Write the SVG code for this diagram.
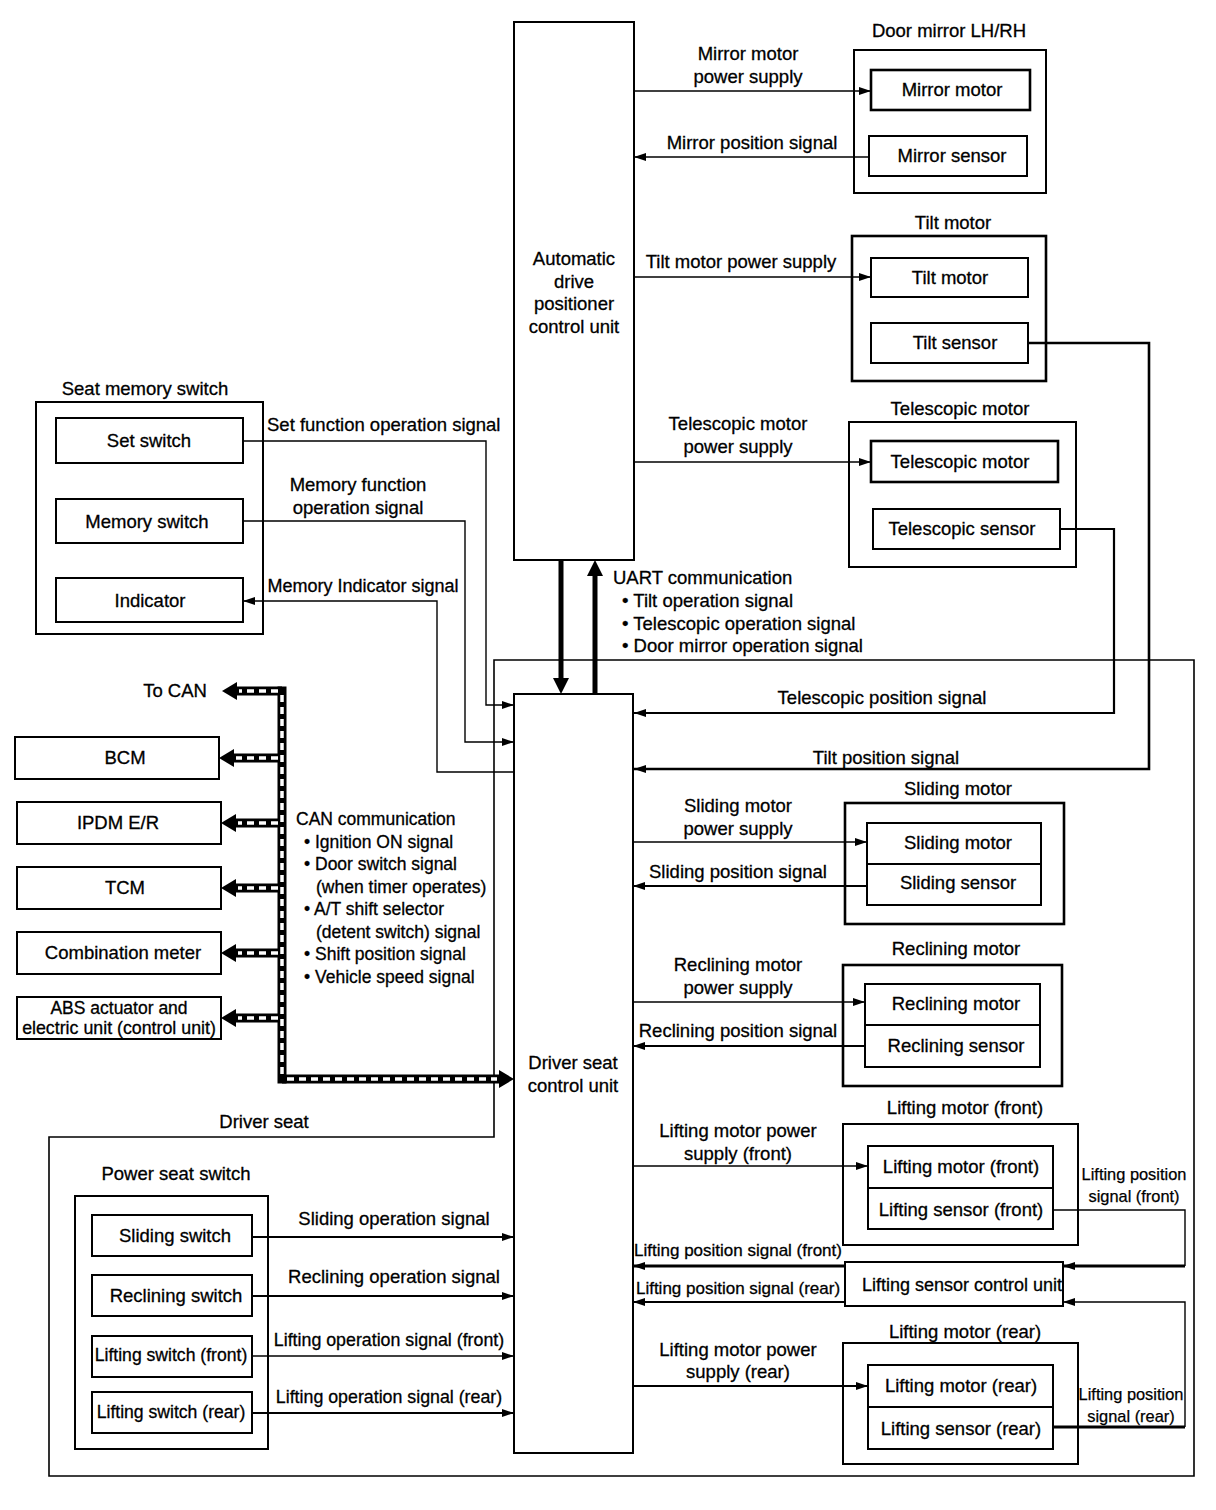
<svg xmlns="http://www.w3.org/2000/svg" width="1216" height="1510" viewBox="0 0 1216 1510">
<defs>
<style>
.b{fill:none;stroke:#000;stroke-width:2}
.bk{fill:none;stroke:#000;stroke-width:2.6}
.t{font-family:"Liberation Sans",Arial,sans-serif;font-size:18.5px;fill:#000;stroke:#000;stroke-width:0.3}
.c{font-size:17.5px}
.s{font-family:"Liberation Sans",Arial,sans-serif;font-size:16.4px;fill:#000;stroke:#000;stroke-width:0.25}
.m{text-anchor:middle}
.l{fill:none;stroke:#000;stroke-width:1.4}
.lt{fill:none;stroke:#000;stroke-width:3}
.cb{fill:none;stroke:#000;stroke-width:9}
.cw{fill:none;stroke:#fff;stroke-width:3.5;stroke-dasharray:7 5}
.u{fill:none;stroke:#000;stroke-width:5}
</style>
<marker id="a" markerWidth="12" markerHeight="8" refX="12" refY="4" orient="auto" markerUnits="userSpaceOnUse"><path d="M0,0 L12,4 L0,8 z"/></marker>
<marker id="ca" markerWidth="16" markerHeight="18" refX="0" refY="9" orient="auto" markerUnits="userSpaceOnUse"><path d="M0,0 L15,9 L0,18 z"/></marker>
<marker id="ua" markerWidth="16" markerHeight="16" refX="0" refY="8" orient="auto" markerUnits="userSpaceOnUse"><path d="M0,0 L16,8 L0,16 z"/></marker>
</defs>
<rect width="1216" height="1510" fill="#fff"/>

<g id="driver-seat-boundary">
<path class="b" d="M494,1137 V660 H1194 V1476 H49 V1137 Z" style="stroke-width:1.6"/>
<text class="t m" x="264" y="1128">Driver seat</text>
</g>

<g id="adp-unit">
<rect class="b" x="514" y="22" width="120" height="538"/>
<text class="t m" x="574" y="265">Automatic</text>
<text class="t m" x="574" y="288">drive</text>
<text class="t m" x="574" y="310">positioner</text>
<text class="t m" x="574" y="333">control unit</text>
</g>

<g id="driver-seat-control-unit">
<rect class="b" x="514" y="694" width="119" height="759"/>
<text class="t m" x="573" y="1069">Driver seat</text>
<text class="t m" x="573" y="1092">control unit</text>
</g>

<g id="door-mirror">
<text class="t m" x="949" y="37">Door mirror LH/RH</text>
<rect class="b" x="854" y="50" width="192" height="143"/>
<rect class="bk" x="871" y="70" width="159" height="40"/>
<text class="t m" x="952" y="96">Mirror motor</text>
<rect class="b" x="869" y="136" width="158" height="40"/>
<text class="t m" x="952" y="162">Mirror sensor</text>
</g>

<g id="tilt-motor">
<text class="t m" x="953" y="229">Tilt motor</text>
<rect class="bk" x="852" y="236" width="194" height="145"/>
<rect class="b" x="871" y="258" width="157" height="39"/>
<text class="t m" x="950" y="284">Tilt motor</text>
<rect class="b" x="871" y="323" width="157" height="40"/>
<text class="t m" x="955" y="349">Tilt sensor</text>
</g>

<g id="telescopic-motor">
<text class="t m" x="960" y="415">Telescopic motor</text>
<rect class="b" x="849" y="422" width="227" height="145"/>
<rect class="bk" x="871" y="441" width="187" height="41"/>
<text class="t m" x="960" y="468">Telescopic motor</text>
<rect class="b" x="873" y="509" width="187" height="40"/>
<text class="t m" x="962" y="535">Telescopic sensor</text>
</g>

<g id="seat-memory-switch">
<text class="t m" x="145" y="395">Seat memory switch</text>
<rect class="b" x="36" y="402" width="227" height="232"/>
<rect class="b" x="56" y="418" width="187" height="45"/>
<text class="t m" x="149" y="447">Set switch</text>
<rect class="b" x="56" y="499" width="187" height="44"/>
<text class="t m" x="147" y="528">Memory switch</text>
<rect class="b" x="56" y="578" width="187" height="44"/>
<text class="t m" x="150" y="607">Indicator</text>
</g>

<g id="can-nodes">
<text class="t m" x="175" y="697">To CAN</text>
<rect class="b" x="15" y="737" width="204" height="42"/>
<text class="t m" x="125" y="764">BCM</text>
<rect class="b" x="17" y="802" width="204" height="42"/>
<text class="t m" x="118" y="829">IPDM E/R</text>
<rect class="b" x="17" y="867" width="204" height="42"/>
<text class="t m" x="125" y="894">TCM</text>
<rect class="b" x="17" y="932" width="204" height="42"/>
<text class="t m" x="123" y="959">Combination meter</text>
<rect class="b" x="17" y="997" width="204" height="42"/>
<text class="t c m" x="119" y="1014">ABS actuator and</text>
<text class="t c m" x="119" y="1034" style="font-size:17.8px">electric unit (control unit)</text>
</g>

<g id="sliding-motor">
<text class="t m" x="958" y="795">Sliding motor</text>
<rect class="bk" x="845" y="803" width="219" height="121"/>
<rect class="b" x="867" y="823" width="174" height="82"/>
<line class="b" x1="867" y1="864" x2="1041" y2="864"/>
<text class="t m" x="958" y="849">Sliding motor</text>
<text class="t m" x="958" y="889">Sliding sensor</text>
</g>

<g id="reclining-motor">
<text class="t m" x="956" y="955">Reclining motor</text>
<rect class="bk" x="843" y="965" width="219" height="121"/>
<rect class="b" x="865" y="984" width="175" height="83"/>
<line class="b" x1="865" y1="1025" x2="1040" y2="1025"/>
<text class="t m" x="956" y="1010">Reclining motor</text>
<text class="t m" x="956" y="1052">Reclining sensor</text>
</g>

<g id="lifting-motor-front">
<text class="t m" x="965" y="1114">Lifting motor (front)</text>
<rect class="b" x="843" y="1124" width="235" height="121"/>
<rect class="b" x="868" y="1146" width="185" height="83"/>
<line class="b" x1="868" y1="1188" x2="1053" y2="1188"/>
<text class="t m" x="961" y="1173">Lifting motor (front)</text>
<text class="t m" x="961" y="1216">Lifting sensor (front)</text>
</g>

<g id="lifting-sensor-control-unit">
<rect class="b" x="845" y="1262" width="218" height="44"/>
<text class="t m" x="962" y="1291" style="font-size:18px">Lifting sensor control unit</text>
</g>

<g id="lifting-motor-rear">
<text class="t m" x="965" y="1338">Lifting motor (rear)</text>
<rect class="b" x="843" y="1343" width="235" height="121"/>
<rect class="b" x="868" y="1365" width="185" height="84"/>
<line class="b" x1="868" y1="1407" x2="1053" y2="1407"/>
<text class="t m" x="961" y="1392">Lifting motor (rear)</text>
<text class="t m" x="961" y="1435">Lifting sensor (rear)</text>
</g>

<g id="power-seat-switch">
<text class="t m" x="176" y="1180">Power seat switch</text>
<rect class="b" x="75" y="1196" width="193" height="253"/>
<rect class="b" x="92" y="1215" width="160" height="41"/>
<text class="t m" x="175" y="1242">Sliding switch</text>
<rect class="b" x="92" y="1275" width="160" height="41"/>
<text class="t m" x="176" y="1302">Reclining switch</text>
<rect class="b" x="92" y="1336" width="160" height="41"/>
<text class="t m" x="171" y="1361" style="font-size:17.6px">Lifting switch (front)</text>
<rect class="b" x="92" y="1392" width="160" height="41"/>
<text class="t m" x="171" y="1418" style="font-size:17.6px">Lifting switch (rear)</text>
</g>

<g id="connectors">
<!-- ADP side -->
<path class="l" d="M634,91 H871" marker-end="url(#a)"/>
<text class="t m" x="748" y="60">Mirror motor</text>
<text class="t m" x="748" y="83">power supply</text>
<path class="l" d="M869,157 H634" marker-end="url(#a)"/>
<text class="t m" x="752" y="149">Mirror position signal</text>
<path class="l" d="M634,277 H871" marker-end="url(#a)"/>
<text class="t m" x="741" y="268">Tilt motor power supply</text>
<path class="l" d="M634,462 H871" marker-end="url(#a)"/>
<text class="t m" x="738" y="430">Telescopic motor</text>
<text class="t m" x="738" y="453">power supply</text>
<path class="lt" d="M1028,343 H1149 V769 H634" style="stroke-width:2.6" marker-end="url(#a)"/>
<text class="t m" x="886" y="764">Tilt position signal</text>
<path class="lt" d="M1060,529 H1114 V713 H634" style="stroke-width:2.2" marker-end="url(#a)"/>
<text class="t m" x="882" y="704">Telescopic position signal</text>

<!-- UART -->
<path class="u" d="M561,560 V678" marker-end="url(#ua)"/>
<path class="u" d="M595,694 V576" marker-end="url(#ua)"/>
<text class="t" x="613" y="584">UART communication</text>
<text class="t" x="622" y="607">• Tilt operation signal</text>
<text class="t" x="622" y="630">• Telescopic operation signal</text>
<text class="t" x="622" y="652">• Door mirror operation signal</text>

<!-- Seat memory switch -->
<path class="l" d="M243,441 H486 V705 H514" marker-end="url(#a)"/>
<text class="t" x="267" y="431">Set function operation signal</text>
<path class="l" d="M243,521 H465 V742 H514" marker-end="url(#a)"/>
<text class="t m" x="358" y="491">Memory function</text>
<text class="t m" x="358" y="514">operation signal</text>
<path class="l" d="M514,772 H437 V601 H243" marker-end="url(#a)"/>
<text class="t m" x="363" y="592" style="font-size:18px">Memory Indicator signal</text>

<!-- CAN bus -->
<path class="cb" d="M282,691 H237" marker-end="url(#ca)"/>
<path class="cb" d="M282,758 H234" marker-end="url(#ca)"/>
<path class="cb" d="M282,823 H236" marker-end="url(#ca)"/>
<path class="cb" d="M282,888 H236" marker-end="url(#ca)"/>
<path class="cb" d="M282,953 H236" marker-end="url(#ca)"/>
<path class="cb" d="M282,1018 H236" marker-end="url(#ca)"/>
<path class="cb" d="M282,686.5 V1083.5"/>
<path class="cb" d="M282,1079 H499" marker-end="url(#ca)"/>
<path class="cw" d="M278,691 H239"/>
<path class="cw" d="M278,758 H236"/>
<path class="cw" d="M278,823 H238"/>
<path class="cw" d="M278,888 H238"/>
<path class="cw" d="M278,953 H238"/>
<path class="cw" d="M278,1018 H238"/>
<path class="cw" d="M282,695 V1075"/>
<path class="cw" d="M287,1079 H497"/>
<text class="t c" x="296" y="825">CAN communication</text>
<text class="t c" x="304" y="848">• Ignition ON signal</text>
<text class="t c" x="304" y="870">• Door switch signal</text>
<text class="t c" x="316" y="893">(when timer operates)</text>
<text class="t c" x="304" y="915">• A/T shift selector</text>
<text class="t c" x="316" y="938">(detent switch) signal</text>
<text class="t c" x="304" y="960">• Shift position signal</text>
<text class="t c" x="304" y="983">• Vehicle speed signal</text>

<!-- DSCU right side -->
<path class="l" d="M633,842 H867" marker-end="url(#a)"/>
<text class="t m" x="738" y="812">Sliding motor</text>
<text class="t m" x="738" y="835">power supply</text>
<path class="l" d="M867,886 H633" style="stroke-width:2" marker-end="url(#a)"/>
<text class="t m" x="738" y="878">Sliding position signal</text>
<path class="l" d="M633,1002 H865" marker-end="url(#a)"/>
<text class="t m" x="738" y="971">Reclining motor</text>
<text class="t m" x="738" y="994">power supply</text>
<path class="l" d="M865,1046 H633" style="stroke-width:2" marker-end="url(#a)"/>
<text class="t m" x="738" y="1037">Reclining position signal</text>
<path class="l" d="M633,1166 H868" marker-end="url(#a)"/>
<text class="t m" x="738" y="1137">Lifting motor power</text>
<text class="t m" x="738" y="1160">supply (front)</text>
<path class="l" d="M1053,1210 H1185 V1266" />
<path class="lt" d="M1185,1266 H1063" marker-end="url(#a)"/>
<text class="s m" x="1134" y="1180">Lifting position</text>
<text class="s m" x="1134" y="1202">signal (front)</text>
<path class="lt" d="M845,1266 H633" marker-end="url(#a)"/>
<text class="t m" x="738" y="1256" style="font-size:17px">Lifting position signal (front)</text>
<path class="l" d="M845,1302 H633" style="stroke-width:2" marker-end="url(#a)"/>
<text class="t m" x="738" y="1294" style="font-size:17px">Lifting position signal (rear)</text>
<path class="l" d="M633,1386 H868" style="stroke-width:2.2" marker-end="url(#a)"/>
<text class="t m" x="738" y="1356">Lifting motor power</text>
<text class="t m" x="738" y="1378">supply (rear)</text>
<path class="lt" d="M1053,1427 H1185"/>
<path class="l" d="M1185,1427 V1302 H1063" marker-end="url(#a)"/>
<text class="s m" x="1131" y="1400">Lifting position</text>
<text class="s m" x="1131" y="1422">signal (rear)</text>

<!-- Power seat switch -->
<path class="l" d="M252,1237 H514" style="stroke-width:2" marker-end="url(#a)"/>
<text class="t m" x="394" y="1225">Sliding operation signal</text>
<path class="l" d="M252,1296 H514" style="stroke-width:2" marker-end="url(#a)"/>
<text class="t m" x="394" y="1283">Reclining operation signal</text>
<path class="l" d="M252,1356 H514" marker-end="url(#a)"/>
<text class="t m" x="389" y="1346" style="font-size:17.8px">Lifting operation signal (front)</text>
<path class="l" d="M252,1413 H514" style="stroke-width:2" marker-end="url(#a)"/>
<text class="t m" x="389" y="1403" style="font-size:17.8px">Lifting operation signal (rear)</text>
</g>
</svg>
